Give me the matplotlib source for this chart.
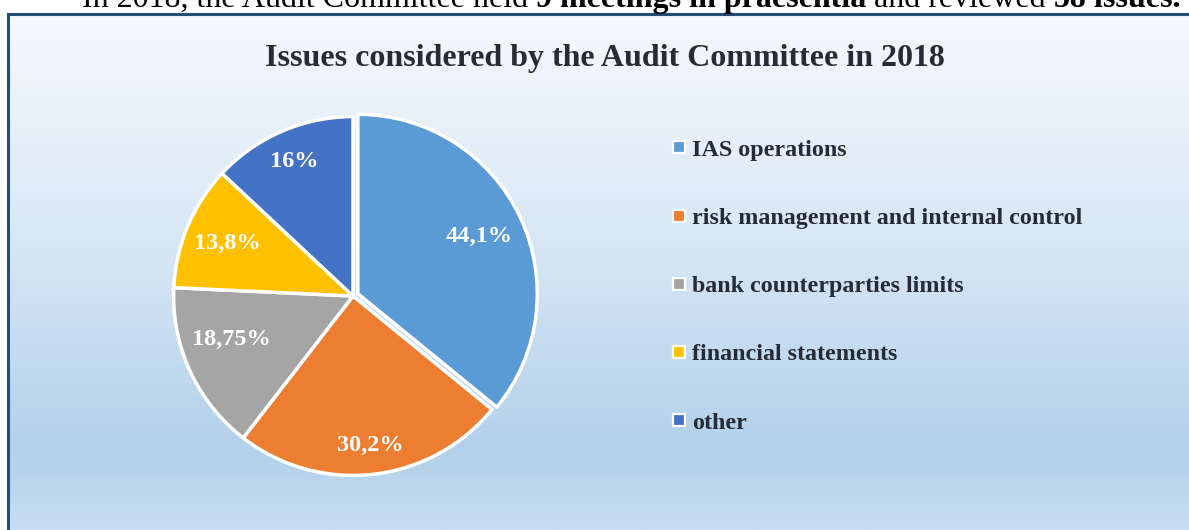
import numpy as np
import matplotlib
matplotlib.use("Agg")
import matplotlib.pyplot as plt
from matplotlib.colors import LinearSegmentedColormap
from matplotlib.lines import Line2D

# data
categories = ["IAS operations", "risk management and internal control",
              "bank counterparties limits", "financial statements", "other"]
values = [44.1, 30.2, 18.75, 13.8, 16]
value_labels = ["44,1%", "30,2%", "18,75%", "13,8%", "16%"]
colors = ["#5b9bd5", "#ed7d31", "#a5a5a5", "#ffc000", "#4472c4"]

title = "Issues considered by the Audit Committee in 2018"
intro_runs = [("In 2018, the Audit Committee held ", "normal"),
              ("9 meetings in praesentia", "bold"),
              (" and reviewed ", "normal"),
              ("58 issues.", "bold")]

W, H = 1189, 530
serif = ["Liberation Serif", "DejaVu Serif"]
dark = "#252c36"

fig = plt.figure(figsize=(W / 100, H / 100), dpi=100)
fig.patch.set_facecolor("white")

# chart area with vertical gradient fill (frame runs past right/bottom edges)
bg = fig.add_axes([8 / W, 0, 1.0, (H - 14) / H])
grad = LinearSegmentedColormap.from_list(
    "bg", [(0.0, "#f5f9fd"), (0.42, "#dae8f5"), (0.83, "#b4d1eb"),
           (0.88, "#b6d3ec"), (1.0, "#c8ddf2")])
bg.imshow(np.linspace(0, 1, 256).reshape(-1, 1), cmap=grad, aspect="auto",
          extent=[0, 1, 0, 1], origin="upper")
bg.set_xlim(0, 1)
bg.set_ylim(0, 1)
bg.set_xticks([])
bg.set_yticks([])
for side in ["right", "bottom"]:
    bg.spines[side].set_visible(False)
for side in ["left", "top"]:
    bg.spines[side].set_color("#1f4e79")
    bg.spines[side].set_linewidth(2.2)

# intro sentence above the chart box, pieced together run by run
renderer = fig.canvas.get_renderer()
x = 82 / W
for s, weight in intro_runs:
    t = fig.text(x, 1 - 7 / H, s, fontsize=23, fontweight=weight,
                 family=serif, color="black", va="baseline", ha="left")
    x += t.get_window_extent(renderer).width / W

fig.text(605 / W, 1 - 66 / H, title, fontsize=23, fontweight="bold",
         family=serif, color=dark, ha="center", va="baseline")

# pie
cx, cy, r = 353, H - 296, 183
ax = fig.add_axes([(cx - r) / W, (cy - r) / H, 2 * r / W, 2 * r / H])
wedges, _ = ax.pie(values, colors=colors, startangle=90, counterclock=False,
                   explode=[0.03, 0, 0, 0, 0],
                   wedgeprops=dict(edgecolor="white", linewidth=2.5))
ax.set_xlim(-1.02, 1.02)
ax.set_ylim(-1.02, 1.02)
ax.set_axis_off()

# value labels sit inside each wedge, near its middle angle
label_dist = [0.75, 0.84, 0.72, 0.76, 0.82]
label_turn = [0, 0, -5, 0, 0]
for w, lab, d, turn in zip(wedges, value_labels, label_dist, label_turn):
    ang = np.deg2rad((w.theta1 + w.theta2) / 2 + turn)
    cx0, cy0 = w.center
    ax.text(cx0 + d * np.cos(ang), cy0 + d * np.sin(ang), lab,
            fontsize=17.5, fontweight="bold", family=serif, color="white",
            ha="center", va="center")

# legend
handles = [Line2D([], [], ls="none", marker="s", markersize=8.5,
                  markerfacecolor=c, markeredgecolor="white",
                  markeredgewidth=1.6) for c in colors]
fig.legend(handles, categories, loc="upper left",
           bbox_to_anchor=(672 / W, 1 - 139 / H), frameon=False,
           prop=dict(family=serif, weight="bold", size=17.3),
           labelcolor=dark, handlelength=0.6, handletextpad=0.25,
           labelspacing=1.93, borderpad=0, borderaxespad=0)

fig.savefig("out.png", dpi=100)
